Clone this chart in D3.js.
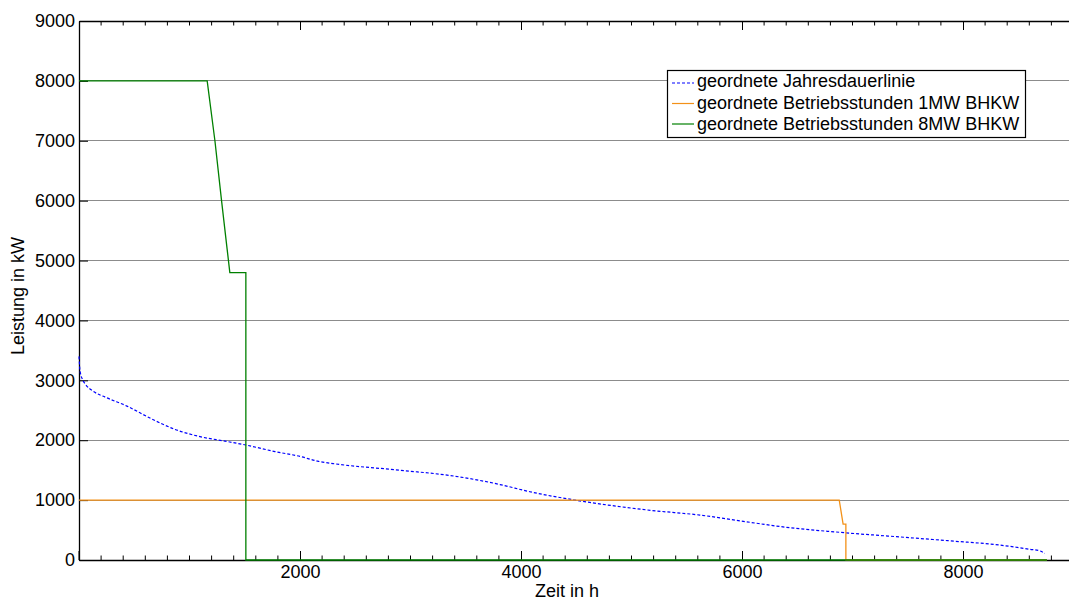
<!DOCTYPE html>
<html><head><meta charset="utf-8">
<script src="https://d3js.org/d3.v7.min.js"></script>
<style>body{margin:0;background:#fff}svg{display:block}text{font-family:"Liberation Sans",Arial,sans-serif;fill:#000}</style>
</head><body>
<script>
// Data
const blueHours = [0, 10, 36, 60, 127, 250, 434, 642, 870, 1095, 1321, 1510, 1774, 2000, 2160, 2300, 2900, 3400, 3810, 4080, 4490, 5170, 5620, 6070, 6340, 6930, 7430, 7880, 8330, 8600, 8700, 8740];
const blueValues = [3400, 3150, 3000, 2930, 2820, 2710, 2570, 2370, 2180, 2060, 1985, 1920, 1810, 1730, 1650, 1610, 1500, 1400, 1260, 1140, 1000, 830, 750, 630, 560, 455, 385, 320, 250, 180, 150, 110];
const orangeHours = [0, 6880, 6915, 6940, 6940, 8760];
const orangeValues = [1000, 1000, 600, 600, 0, 0];
const greenHours = [0, 1160, 1230, 1290, 1340, 1365, 1510, 1510, 8760];
const greenValues = [8000, 8000, 7000, 6000, 5200, 4800, 4800, 0, 0];
const xMajorTicks = [2000, 4000, 6000, 8000];
const yTicks = [0, 1000, 2000, 3000, 4000, 5000, 6000, 7000, 8000, 9000];
const seriesNames = ["geordnete Jahresdauerlinie", "geordnete Betriebsstunden 1MW BHKW", "geordnete Betriebsstunden 8MW BHKW"];
const seriesColors = ["#0000ff", "#f39118", "#008000"];

(function () {
const W = 1069, H = 601;
const mLeft = 79, mTop = 21, mBottom = 560;
const x = d3.scaleLinear().domain([0, 9000]).range([mLeft, mLeft + 9000 * 0.1105]);
const y = d3.scaleLinear().domain([0, 9000]).range([mBottom, mTop]);
const mRight = x(9000);

const svg = d3.select("body").append("svg").attr("width", W).attr("height", H);
const fs = "18px";

// grid
svg.append("g").selectAll("line").data(yTicks.filter(d => d > 0 && d < 9000)).join("line")
  .attr("x1", mLeft).attr("x2", mRight).attr("y1", d => y(d)).attr("y2", d => y(d))
  .attr("stroke", "#8c8c8c").attr("stroke-width", 1).attr("shape-rendering", "crispEdges");

// axes
const minorTicks = d3.range(200, 9000, 200).filter(d => d % 2000 !== 0);
const bottomAxis = d3.axisBottom(x).tickValues(xMajorTicks).tickSizeInner(-9).tickSizeOuter(0).tickPadding(5).tickFormat(d3.format("d"));
const gx = svg.append("g").attr("transform", `translate(0,${mBottom})`).call(bottomAxis);
gx.selectAll("text").style("font-size", fs);
gx.append("g").selectAll("line").data(minorTicks).join("line")
  .attr("x1", d => x(d)).attr("x2", d => x(d)).attr("y1", 0).attr("y2", -4.5).attr("stroke", "#000");
gx.append("line").attr("x1", x(0)).attr("x2", x(0)).attr("y1", 0).attr("y2", -9).attr("stroke", "#000");

const topAxis = d3.axisTop(x).tickValues([0].concat(xMajorTicks)).tickSizeInner(-9).tickSizeOuter(0).tickFormat("");
const gt = svg.append("g").attr("transform", `translate(0,${mTop})`).call(topAxis);
gt.append("g").selectAll("line").data(minorTicks).join("line")
  .attr("x1", d => x(d)).attr("x2", d => x(d)).attr("y1", 0).attr("y2", 4.5).attr("stroke", "#000");

const leftAxis = d3.axisLeft(y).tickValues(yTicks).tickSizeInner(-9).tickSizeOuter(0).tickPadding(4).tickFormat(d3.format("d"));
const gy = svg.append("g").attr("transform", `translate(${mLeft},0)`).call(leftAxis);
gy.selectAll("text").style("font-size", fs);
svg.selectAll(".domain").attr("stroke", "#000").attr("stroke-width", 1.3);

// lines
const line = d3.line().x(d => x(d[0])).y(d => y(d[1]));
const smooth = d3.line().x(d => x(d[0])).y(d => y(d[1])).curve(d3.curveMonotoneX);
svg.append("path").datum(blueHours.map((h, i) => [h, blueValues[i]])).attr("d", smooth)
  .attr("fill", "none").attr("stroke", seriesColors[0]).attr("stroke-width", 1.2).attr("stroke-dasharray", "3,2");
svg.append("path").datum(orangeHours.map((h, i) => [h, orangeValues[i]])).attr("d", line)
  .attr("fill", "none").attr("stroke", seriesColors[1]).attr("stroke-width", 1.3);
svg.append("path").datum(greenHours.map((h, i) => [h, greenValues[i]])).attr("d", line)
  .attr("fill", "none").attr("stroke", seriesColors[2]).attr("stroke-width", 1.3);

// axis labels
svg.append("text").attr("x", 567).attr("y", 597).attr("text-anchor", "middle").style("font-size", fs).text("Zeit in h");
svg.append("text").attr("transform", "translate(24,296) rotate(-90)").attr("text-anchor", "middle").style("font-size", fs).text("Leistung in kW");

// legend
const lg = svg.append("g");
lg.append("rect").attr("x", 667.5).attr("y", 70.5).attr("width", 358).attr("height", 67)
  .attr("fill", "#fff").attr("stroke", "#000").attr("stroke-width", 1.2);
const rowsLine = [83, 103.5, 124];
const rowsText = [87, 109, 129.5];
seriesNames.forEach((n, i) => {
  lg.append("line").attr("x1", 672).attr("x2", 694).attr("y1", rowsLine[i]).attr("y2", rowsLine[i])
    .attr("stroke", seriesColors[i]).attr("stroke-width", 1.2).attr("stroke-dasharray", i === 0 ? "3,2" : null);
  lg.append("text").attr("x", 697).attr("y", rowsText[i]).style("font-size", fs).text(n);
});
})();
</script>
</body></html>
